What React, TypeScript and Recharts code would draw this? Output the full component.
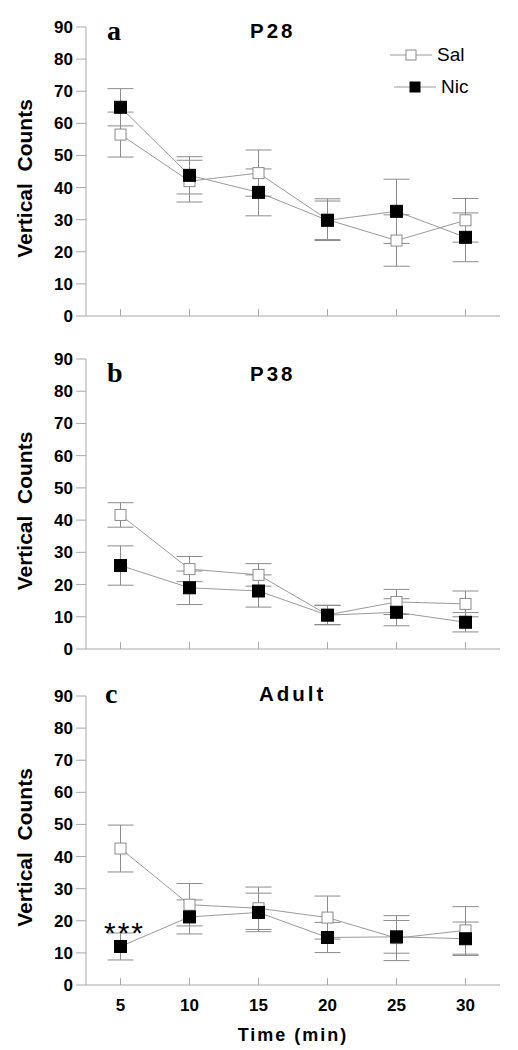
import React from "react";
import { ErrorBar, LabelList, Legend, Line, LineChart, XAxis, YAxis } from "recharts";

// minutes after injection
const times = [5, 10, 15, 20, 25, 30];
const yTicks = [0, 10, 20, 30, 40, 50, 60, 70, 80, 90];
const seriesNames = ["Sal", "Nic"];

// P28
const p28Sal = [56.5, 42, 44.5, 30, 23.5, 29.8];
const p28SalErr = [7, 6.5, 7.2, 6.5, 8, 6.8];
const p28Nic = [65, 43.8, 38.5, 29.8, 32.6, 24.5];
const p28NicErr = [5.8, 5.8, 7.3, 6, 10, 7.6];

// P38
const p38Sal = [41.6, 24.8, 23, 10.6, 14.6, 14];
const p38SalErr = [3.8, 3.9, 3.5, 3, 3.9, 4];
const p38Nic = [25.9, 19, 18, 10.5, 11.4, 8.3];
const p38NicErr = [6.1, 5.2, 5, 3, 4.2, 3];

// Adult
const adultSal = [42.5, 25, 23.9, 21, 14.6, 17];
const adultSalErr = [7.3, 6.6, 6.6, 6.7, 7, 7.4];
const adultNic = [12, 21.2, 22.6, 14.8, 15, 14.4];
const adultNicErr = [4.2, 5.3, 6, 4.7, 5.1, 5.2];
const adultSig = ["***", "", "", "", "", ""];

const FONT = "'Liberation Sans', Arial, sans-serif";
const SERIF = "'Liberation Serif', 'Times New Roman', serif";
const AXIS = "#a8a8a8";
const LINE = "#9a9a9a";
const ERR = "#8c8c8c";

const buildRows = (sal: number[], salErr: number[], nic: number[], nicErr: number[], sig?: string[]) =>
  times.map((t, i) => ({
    time: t,
    sal: sal[i],
    salErr: salErr[i],
    nic: nic[i],
    nicErr: nicErr[i],
    sig: sig ? sig[i] : "",
  }));

const SalDot = (props: any) => {
  const { cx, cy, index } = props;
  if (cx == null || cy == null) return <g key={`s-${index}`} />;
  return (
    <rect key={`s-${index}`} x={cx - 5.5} y={cy - 5.5} width={11} height={11} fill="#fff" stroke="#8a8a8a" strokeWidth={1} />
  );
};

const NicDot = (props: any) => {
  const { cx, cy, index } = props;
  if (cx == null || cy == null) return <g key={`n-${index}`} />;
  return <rect key={`n-${index}`} x={cx - 6} y={cy - 6} width={12} height={12} fill="#000" stroke="#000" />;
};

const makeXTick = (showLabel: boolean) => (props: any) => {
  const { x, y, payload } = props;
  return (
    <g>
      <line x1={x} x2={x} y1={y - 7} y2={y} stroke={AXIS} strokeWidth={1} />
      {showLabel && (
        <text x={x} y={y + 26} textAnchor="middle" fontFamily={FONT} fontWeight="bold" fontSize={17} fill="#000">
          {payload.value}
        </text>
      )}
    </g>
  );
};

const YLabel = (props: any) => {
  const { viewBox } = props;
  const cx = viewBox.x + 32;
  const cy = viewBox.y + viewBox.height / 2 + 7;
  return (
    <text
      x={cx}
      y={cy}
      transform={`rotate(-90, ${cx}, ${cy})`}
      textAnchor="middle"
      fontFamily={FONT}
      fontWeight="bold"
      fontSize={21}
      fill="#000"
      style={{ whiteSpace: "pre" }}
    >
      Vertical  Counts
    </text>
  );
};

const TimeLabel = (props: any) => {
  const { viewBox } = props;
  return (
    <text
      x={viewBox.x + viewBox.width / 2}
      y={viewBox.y + 56}
      textAnchor="middle"
      fontFamily={FONT}
      fontWeight="bold"
      fontSize={18}
      letterSpacing={2}
      fill="#000"
    >
      Time (min)
    </text>
  );
};

const SigLabel = (props: any) => {
  const { x, y, value } = props;
  if (!value) return null;
  return (
    <text x={x + 4} y={y - 3} textAnchor="middle" fontFamily={FONT} fontSize={30} letterSpacing={2} fill="#000">
      {value}
    </text>
  );
};

// legend keeps the figure's own order: Sal above Nic
const LegendContent = () => (
  <div style={{ fontFamily: FONT, fontSize: 19, color: "#000" }}>
    {seriesNames.map((n, i) => (
      <div key={n} style={{ display: "flex", alignItems: "center", height: 22, marginBottom: 10, marginLeft: i * 4 }}>
        <svg width={42} height={22}>
          <line x1={0} x2={42} y1={11} y2={11} stroke={LINE} />
          <rect
            x={16}
            y={6}
            width={10}
            height={10}
            fill={i === 0 ? "#fff" : "#000"}
            stroke={i === 0 ? "#8a8a8a" : "#000"}
          />
        </svg>
        <span style={{ marginLeft: 5, lineHeight: "22px" }}>{n}</span>
      </div>
    ))}
  </div>
);

type PanelProps = {
  rows: ReturnType<typeof buildRows>;
  letter: string;
  title: string;
  letterPos: [number, number];
  titlePos: [number, number];
  height: number;
  top: number;
  xAxisHeight: number;
  showXLabels?: boolean;
  showLegend?: boolean;
};

const Panel = ({ rows, letter, title, letterPos, titlePos, height, top, xAxisHeight, showXLabels, showLegend }: PanelProps) => (
  <LineChart width={518} height={height} data={rows} margin={{ top, right: 18, bottom: 0, left: 0 }}>
    <XAxis
      type="number"
      dataKey="time"
      domain={[2.5, 32.5]}
      ticks={times}
      height={xAxisHeight}
      axisLine={{ stroke: AXIS }}
      tickLine={false}
      tickSize={0}
      tickMargin={0}
      tick={makeXTick(!!showXLabels)}
      label={showXLabels ? TimeLabel : undefined}
    />
    <YAxis
      type="number"
      domain={[0, 90]}
      ticks={yTicks}
      width={86}
      axisLine={{ stroke: AXIS }}
      tickLine={{ stroke: AXIS }}
      tickSize={10}
      tickMargin={3}
      tick={{ fill: "#000", fontFamily: FONT, fontWeight: "bold", fontSize: 17 }}
      label={YLabel}
    />
    {showLegend && (
      <Legend
        layout="horizontal"
        verticalAlign="middle"
        align="center"
        content={LegendContent}
        wrapperStyle={{ top: 44, left: 390, width: "auto" }}
      />
    )}
    <Line
      type="linear"
      dataKey="sal"
      name="Sal"
      stroke={LINE}
      strokeWidth={1}
      dot={SalDot}
      activeDot={false}
      isAnimationActive={false}
    >
      <ErrorBar dataKey="salErr" width={13} stroke={ERR} strokeWidth={1} direction="y" />
    </Line>
    <Line
      type="linear"
      dataKey="nic"
      name="Nic"
      stroke={LINE}
      strokeWidth={1}
      dot={NicDot}
      activeDot={false}
      isAnimationActive={false}
    >
      <ErrorBar dataKey="nicErr" width={13} stroke={ERR} strokeWidth={1} direction="y" />
      <LabelList dataKey="sig" content={SigLabel} />
    </Line>
    <text x={letterPos[0]} y={letterPos[1]} fontFamily={SERIF} fontWeight="bold" fontSize={28} fill="#000">
      {letter}
    </text>
    <text x={titlePos[0]} y={titlePos[1]} fontFamily={FONT} fontWeight="bold" fontSize={20.5} letterSpacing={3} fill="#000">
      {title}
    </text>
  </LineChart>
);

export default function App() {
  return (
    <div style={{ position: "absolute", left: 0, top: 0, width: 518, height: 1050, background: "#fff" }}>
      <div style={{ position: "absolute", left: 0, top: 0 }}>
        <Panel
          rows={buildRows(p28Sal, p28SalErr, p28Nic, p28NicErr)}
          letter="a"
          title="P28"
          letterPos={[107, 40]}
          titlePos={[250, 38]}
          height={340}
          top={27}
          xAxisHeight={24}
          showLegend
        />
      </div>
      <div style={{ position: "absolute", left: 0, top: 340 }}>
        <Panel
          rows={buildRows(p38Sal, p38SalErr, p38Nic, p38NicErr)}
          letter="b"
          title="P38"
          letterPos={[107, 41.7]}
          titlePos={[250, 40.7]}
          height={320}
          top={19}
          xAxisHeight={11}
        />
      </div>
      <div style={{ position: "absolute", left: 0, top: 660 }}>
        <Panel
          rows={buildRows(adultSal, adultSalErr, adultNic, adultNicErr, adultSig)}
          letter="c"
          title="Adult"
          letterPos={[105, 43]}
          titlePos={[259, 40.7]}
          height={390}
          top={36}
          xAxisHeight={65}
          showXLabels
        />
      </div>
    </div>
  );
}
